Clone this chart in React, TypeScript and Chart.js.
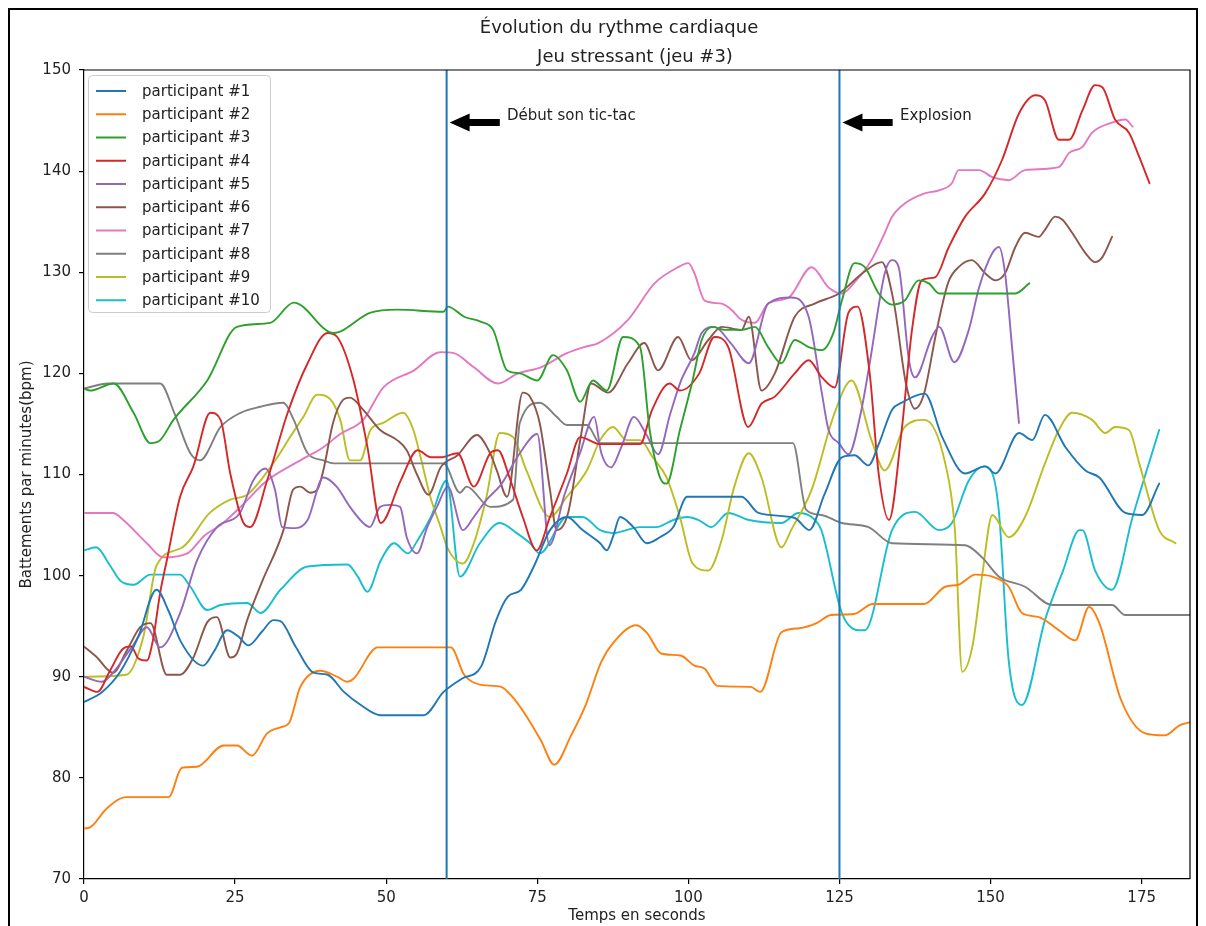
import React, { useEffect, useRef } from 'react';
import { Chart, registerables } from 'chart.js';

Chart.register(...registerables);

const FONT = '"DejaVu Sans", "Liberation Sans", sans-serif';

const TITLE_1 = 'Évolution du rythme cardiaque';
const TITLE_2 = 'Jeu stressant (jeu #3)';
const X_LABEL = 'Temps en seconds';
const Y_LABEL = 'Battements par minutes(bpm)';

const X_TICKS = [0, 25, 50, 75, 100, 125, 150, 175];
const Y_TICKS = [70, 80, 90, 100, 110, 120, 130, 140, 150];

const LABELS = [
  'participant #1', 'participant #2', 'participant #3', 'participant #4', 'participant #5',
  'participant #6', 'participant #7', 'participant #8', 'participant #9', 'participant #10',
];
const COLORS = ['#1f77b4', '#ff7f0e', '#2ca02c', '#d62728', '#9467bd', '#8c564b', '#e377c2', '#7f7f7f', '#bcbd22', '#17becf'];

// [time (s), bpm]
const p1: [number, number][] = [[0,87.5],[3,88.5],[6,90.5],[9,94],[12,98.6],[14,96.5],[16,93.5],[19.7,91.1],[21.5,92.5],[23.7,94.6],[25.5,94],[27.2,93.1],[29.5,94.5],[31.3,95.6],[32.5,95.5],[35,93],[38,90.4],[40.3,90.2],[43,88.5],[45.8,87.2],[49,86.2],[56.2,86.2],[59.5,88.5],[62.5,89.8],[65.7,91],[68.2,95.6],[70.1,97.9],[72.3,98.6],[74.5,101],[77.1,104.5],[79.9,105.8],[82.5,104.5],[85.4,103.2],[86.5,102.5],[87.5,103.8],[88.7,105.8],[90.9,104.8],[93.1,103.2],[95.3,103.8],[97.5,104.8],[99.8,107.8],[108.8,107.8],[111.6,106.2],[117.6,105.7],[120,104.5],[122.5,108],[125.4,111.7],[127.5,111.9],[129.8,110.9],[131.5,113],[133.7,116.4],[135.3,117.1],[139.1,118],[142,113.7],[145.8,110.1],[149.1,110.8],[150.8,110.1],[154.7,114.1],[156.9,113.4],[159,115.9],[162.4,112.7],[165.7,110.4],[168,109.7],[172.3,106.2],[175.1,106],[177.9,109.1]];
const p2: [number, number][] = [[0,75],[1,75.1],[3.8,77],[7,78.1],[14,78.1],[16.2,81],[18.7,81.1],[23.1,83.2],[25.3,83.2],[27.8,82.2],[30.3,84.4],[32.5,85],[33.9,85.4],[35.8,89],[39.1,90.6],[41.9,90],[43.6,89.5],[44.6,89.8],[48.6,92.9],[60.7,92.9],[62.9,90.2],[65.7,89.2],[69,89],[70.6,88.2],[73.1,86.2],[75.6,83.7],[77.8,81.3],[80.6,84.2],[83,87.2],[85.6,91.5],[87.5,93.3],[91.4,95.1],[93.2,94.3],[95.5,92.3],[98.7,92.1],[101,91.1],[102.7,90.8],[104.8,89.1],[110.3,89],[111.9,88.5],[115.4,94.4],[118.4,94.8],[121.2,95.3],[123.6,96.1],[127.4,96.2],[130.5,97.2],[139,97.2],[142.5,98.9],[144.7,99.1],[147.5,100.1],[150.3,99.9],[153,98.9],[155.2,96.3],[158,95.9],[161.3,94.6],[164,93.6],[166.3,96.9],[168,95.3],[171.6,87.7],[175.6,84.4],[178.8,84.2],[181.3,85.2],[183,85.5]];
const p3: [number, number][] = [[0,118.5],[1,118.3],[4.9,119],[8.2,116.1],[11,113.1],[12.6,113.4],[14.8,115.4],[20.4,119.3],[25.3,124.6],[30.8,125],[34.7,127],[41.3,124],[47.4,126],[51.8,126.3],[59.5,126.1],[60.2,126.6],[62.9,125.6],[65.7,125.1],[67.7,124.3],[70,120.3],[72.1,120],[75,119.3],[77.6,121.8],[79.9,120.3],[82.1,117.2],[84.2,119.3],[86.5,118.3],[89.2,123.6],[92,122.6],[93.6,114.4],[95.3,109.7],[96.4,109.1],[98.6,114.4],[100.7,119.3],[102.2,123.3],[104,124.6],[106,124.3],[108.8,124.3],[111,124.6],[113.2,122.6],[115.4,121],[117.6,123.3],[119.9,122.6],[122.1,122.3],[124,124],[125.4,127.2],[127.5,130.9],[129.2,130.5],[131.5,127.9],[133.7,126.8],[135.8,127.2],[138.1,129.2],[139.8,128.9],[141.5,127.9],[146.9,127.9],[154.1,127.9],[156.4,128.9]];
const p4: [number, number][] = [[0,89],[2.2,88.5],[4.3,90.6],[6.5,92.8],[7.8,93],[9,91.8],[10.4,91.6],[11.4,93.6],[12.6,98.3],[13.7,101.5],[15.9,107.8],[18.1,110.8],[20.9,116.1],[22.6,115.4],[24.2,110.1],[26.4,105.2],[27.5,104.8],[30.3,109.4],[33.7,116.1],[37,121],[40.3,124],[41.9,123.6],[44.6,119.3],[46.9,112.7],[49.1,105.2],[52.4,109.4],[55.2,112.4],[57.4,111.7],[59,111.7],[61.8,112.1],[64.5,108.8],[67.2,112.1],[68.5,112.4],[70.4,109.7],[72.6,105.8],[74.9,102.5],[77.1,105.8],[79.9,110.1],[82.1,113.7],[85.4,113],[92,113],[94,116.4],[96.9,119],[98.6,118.3],[101.8,120],[104.3,123.6],[106.6,122.6],[109.9,114.7],[112.1,117],[114.3,117.7],[117.6,120],[119.9,121.3],[122.1,119.6],[124.2,118.6],[126.5,126],[128,126.6],[130,120],[131.5,110],[133.2,105.5],[135.3,114.4],[137,124.3],[138.6,129.2],[140.8,129.5],[143.1,132.5],[145.8,135.5],[149.1,137.8],[151.9,141.1],[154.7,145.7],[157.4,147.5],[159,147],[161.3,143.1],[163,143.1],[165.2,146],[167.3,148.5],[168.5,148.3],[170.6,145.1],[172.9,143.8],[174.6,141.4],[176.3,138.8]];
const p5: [number, number][] = [[0,90],[3,89.5],[4.8,90.4],[8,93],[10.4,94.9],[12.6,92.9],[15.9,96.3],[18.7,101.5],[22,104.8],[25.8,106.2],[28,109.4],[30,110.6],[31.6,108.5],[32.8,104.8],[35,104.7],[37,105.5],[39.6,109.7],[41.8,108.8],[44,106.8],[46.2,105.2],[47.3,104.8],[49,106.8],[50.6,107],[52.3,106.8],[53.4,103.8],[55.1,102.2],[56.8,104.8],[58.4,106.8],[60.2,108.8],[62.7,104.5],[64.5,105.8],[66.6,107.5],[69,109],[72,112],[75,114],[77,103],[79.5,108],[82,112],[84.4,115.7],[85.6,112.1],[87.2,110.7],[88.9,112.7],[91,115.7],[93,114],[95,112],[97,116],[98.8,119.3],[101,122],[102.2,124],[104.3,124.6],[107,123],[110,121],[113.2,126.9],[117,127.5],[119.9,125.6],[122.1,118],[123.2,114.4],[124.9,113.1],[126.5,112],[128.5,116],[130,121],[132.5,129.9],[133.7,131.2],[134.8,130.5],[136.5,121.3],[137.5,119.6],[140.3,123.6],[141.5,124.6],[144,121.1],[146.4,124.3],[148.1,128.5],[150.3,131.9],[151.4,132.5],[152.4,129.9],[153.6,122.3],[154.7,115.1]];
const p6: [number, number][] = [[0,93],[2,92],[4.8,90.4],[7,92.5],[9.3,94.9],[11,95.3],[13.7,90.2],[15.9,90.2],[18.1,91.9],[20.4,95.4],[22,95.9],[24.2,91.9],[25.3,92.3],[27,95.6],[29.6,99.6],[33,104.5],[34.6,108.5],[35.8,108.8],[37.4,108.2],[38.6,108.5],[39.6,110.4],[41.2,115.1],[42.9,117.4],[44,117.6],[46.2,116.4],[49,114.4],[51.8,113.4],[53.4,112.4],[55.1,110],[57,108],[59,110.7],[61.8,111.9],[65,113.9],[67.2,112.1],[68.3,110.4],[70,107.8],[72.6,118.1],[73.8,117.7],[75.4,115.1],[77.1,108.5],[78.2,104.5],[80.1,106.2],[82.3,114.1],[83.9,119],[86.7,118.1],[90,121],[92.7,123],[95,120.3],[98.3,123.6],[100.5,121.3],[103.3,123.3],[105.5,124.6],[108.8,124.3],[110,125.6],[112.1,118.3],[114.3,120],[117.6,125.6],[120.9,126.9],[124.9,127.9],[129,130],[132,131],[134,127],[136,119],[137.5,116.5],[139,118],[141,124],[143,129],[144.7,130.5],[146.9,131.2],[149.1,129.9],[150.8,129.2],[152.4,129.9],[154.1,132.5],[155.7,133.9],[158,133.5],[159,134.2],[160.7,135.5],[161.9,135.2],[163.5,133.9],[165.7,131.9],[167.3,131],[168.5,131.5],[170.1,133.5]];
const p7: [number, number][] = [[0,106.2],[4.8,106.2],[6.5,105.5],[10.4,103.2],[13.1,101.8],[17.1,102.2],[20,104],[22.6,105],[25.9,106.8],[30.3,109.4],[35.8,111.4],[39.6,112.7],[42.4,114],[46.2,115.4],[49.5,118.6],[54.6,120.3],[59,122.1],[61.2,122],[64.5,120.6],[68.5,119],[71.8,120],[75.6,120.6],[79.9,122],[82.7,122.6],[85.1,123],[90,125.3],[94.4,128.9],[98.3,130.5],[100,130.9],[101,129.9],[102.7,127.2],[105.5,126.9],[107.1,126.3],[108.8,125.3],[111,125],[113.2,126.9],[116.6,127.5],[120.4,130.5],[123.2,128.5],[125.4,127.9],[127.5,129],[130.3,131.2],[132.5,133.9],[133.7,135.5],[135.8,136.8],[139.1,137.8],[141.5,138.1],[143.6,138.8],[144.7,140.1],[148.1,140.1],[150.3,139.4],[153,139.1],[155.7,140.1],[161.3,140.4],[163,141.8],[165.2,142.4],[166.8,143.8],[170.1,144.8],[172.3,145.1],[173.5,144.4]];
const p8: [number, number][] = [[0,118.5],[4,119],[12.6,119],[15,116],[17.6,112.1],[19.2,111.4],[22.6,114.7],[25.9,116.1],[29.2,116.7],[33,117.1],[34.7,115.4],[37,112.1],[39.6,111.4],[41.3,111.1],[59.5,111.1],[62.2,108.2],[63.3,108.8],[67.2,106.8],[71,107.5],[72.1,115.1],[75.4,117.1],[78.2,115.7],[79.9,114.9],[83.2,114.9],[85.4,113.1],[117.3,113.1],[119.5,106.5],[122,106],[125.4,105.2],[129.8,104.8],[133.7,103.2],[145.8,103],[148.6,101.8],[151.4,99.9],[155.7,98.9],[160.2,97.1],[170.1,97.1],[172.3,96.1],[182.9,96.1]];
const p9: [number, number][] = [[0,90],[7,90.2],[9.8,93.9],[12,101],[16.3,102.8],[20.8,106.2],[24.1,107.5],[27,108],[29.2,109.4],[32,111.7],[34.1,113.7],[36.3,115.7],[38.6,117.9],[40.8,117.4],[42.4,115.4],[44,111.4],[45.7,111.4],[47.4,114.4],[49.5,115.1],[52.8,116.1],[54.5,114.4],[55.7,111.7],[57.3,107.8],[59,104.8],[60.1,102.8],[62.7,101.2],[64.5,103.2],[66.6,107.8],[68.8,114.1],[71,113.7],[73.2,110.4],[77.1,105.8],[79.9,107.8],[83.2,110.4],[85.4,113.4],[87.5,114.7],[89.8,113.4],[92,113.4],[94.1,111.7],[96.4,109.7],[98.6,105.8],[100.7,101.2],[103.3,100.5],[105.5,103.5],[107.6,108.8],[110,112.1],[112.1,109.7],[115.4,102.8],[117,104.5],[120.4,108.5],[124.2,116.1],[127,119.3],[130.3,113.4],[132.5,110.4],[135.8,114.7],[139.1,115.4],[142.5,111.1],[144.1,104.5],[145.3,90.5],[147,93],[148.6,100],[150.3,106],[153,103.8],[155.7,105.8],[159,111.1],[161.3,114.4],[163.5,116.1],[166.8,115.4],[169,114.1],[170.6,114.7],[172.9,114.4],[174.6,111.1],[177.9,104.5],[180.6,103.2]];
const p10: [number, number][] = [[0,102.5],[2,102.8],[4.3,101],[6,99.5],[8.2,99.1],[11,100.1],[15.9,100.1],[17.6,98.9],[20.4,96.6],[22.6,97.1],[27,97.3],[29.2,96.3],[32.5,98.6],[37,100.9],[43.6,101.1],[45.3,99.9],[46.9,98.4],[49.1,101.5],[51.3,103.2],[53.6,102.2],[55.2,103.5],[57.4,105.8],[60,109.4],[62.2,99.9],[65.5,103.2],[68.8,105.2],[71.6,104.2],[73.8,103.2],[75.4,102.2],[79.9,105.8],[82.5,105.8],[85.4,104.5],[87.5,104.2],[92,104.8],[94.7,104.8],[97.5,105.5],[99.8,105.8],[101.7,105.5],[103.8,104.8],[106.6,106.2],[110,105.5],[115.4,105.2],[118.2,106.2],[120.4,105.8],[122,104.5],[125.4,96.3],[128.2,94.6],[129.2,94.6],[133.7,104.5],[137.5,106.3],[141.5,104.5],[143.6,105.2],[146.4,109.4],[148.9,110.8],[150.3,110.1],[151.4,106.2],[153,91.6],[155.2,87.2],[159,95.6],[162,100.5],[164.7,104.5],[165.2,104.5],[167.3,100.5],[170.1,98.6],[173.5,105.8],[177.9,114.4]];

const SERIES = [p1, p2, p3, p4, p5, p6, p7, p8, p9, p10];

const MARKERS = [
  { t: 60, label: 'Début son tic-tac' },
  { t: 125, label: 'Explosion' },
];
const ARROW_Y = 144.8;
const ARROW_LEN = 8.8;
const TEXT_DX = 10;
const TEXT_Y = 145.4;

const overlay = {
  id: 'overlay',
  afterDatasetsDraw(chart: any) {
    const { ctx, chartArea: a, scales } = chart;
    const xs = scales.x;
    const ys = scales.y;
    ctx.save();
    for (const m of MARKERS) {
      const px = xs.getPixelForValue(m.t);
      ctx.strokeStyle = '#1f77b4';
      ctx.lineWidth = 2;
      ctx.beginPath();
      ctx.moveTo(px, a.top);
      ctx.lineTo(px, a.bottom);
      ctx.stroke();

      const tip = px + 3;
      const y0 = ys.getPixelForValue(ARROW_Y);
      const tail = xs.getPixelForValue(m.t + ARROW_LEN);
      ctx.fillStyle = '#000';
      ctx.beginPath();
      ctx.moveTo(tip, y0);
      ctx.lineTo(tip + 20, y0 - 9);
      ctx.lineTo(tip + 20, y0 - 3.5);
      ctx.lineTo(tail, y0 - 3.5);
      ctx.lineTo(tail, y0 + 3.5);
      ctx.lineTo(tip + 20, y0 + 3.5);
      ctx.lineTo(tip + 20, y0 + 9);
      ctx.closePath();
      ctx.fill();

      ctx.font = `15px ${FONT}`;
      ctx.fillStyle = '#222';
      ctx.textAlign = 'left';
      ctx.textBaseline = 'middle';
      ctx.fillText(m.label, xs.getPixelForValue(m.t + TEXT_DX), ys.getPixelForValue(TEXT_Y));
    }

    const lx = a.left + 4;
    const ly = a.top + 5;
    const lw = 182;
    const lh = 237;
    ctx.fillStyle = 'rgba(255,255,255,0.8)';
    ctx.strokeStyle = '#cccccc';
    ctx.lineWidth = 1;
    ctx.beginPath();
    (ctx as any).roundRect(lx + 0.5, ly + 0.5, lw, lh, 4);
    ctx.fill();
    ctx.stroke();
    ctx.font = `15px ${FONT}`;
    ctx.textAlign = 'left';
    ctx.textBaseline = 'middle';
    chart.data.datasets.forEach((ds: any, i: number) => {
      const yy = ly + 16 + i * 23.25;
      ctx.strokeStyle = ds.borderColor;
      ctx.lineWidth = 2;
      ctx.beginPath();
      ctx.moveTo(lx + 8, yy);
      ctx.lineTo(lx + 38, yy);
      ctx.stroke();
      ctx.fillStyle = '#222';
      ctx.fillText(ds.label, lx + 54, yy + 1);
    });

    ctx.strokeStyle = '#000';
    ctx.lineWidth = 1.2;
    ctx.beginPath();
    ctx.moveTo(a.left, a.top);
    ctx.lineTo(a.right, a.top);
    ctx.lineTo(a.right, a.bottom);
    ctx.stroke();
    ctx.restore();
  },
  afterDraw(chart: any) {
    const { ctx, chartArea: a } = chart;
    const cx = (a.left + a.right) / 2;
    const cy = (a.top + a.bottom) / 2;
    ctx.save();
    ctx.fillStyle = '#222';
    ctx.textAlign = 'center';
    ctx.textBaseline = 'middle';
    ctx.font = `18px ${FONT}`;
    ctx.fillText(TITLE_1, cx - 18, 18);
    ctx.fillText(TITLE_2, cx - 2, 47);
    ctx.font = `15px ${FONT}`;
    ctx.fillText(X_LABEL, cx, 906);
    ctx.translate(17, cy);
    ctx.rotate(-Math.PI / 2);
    ctx.fillText(Y_LABEL, 0, 0);
    ctx.restore();
  },
};

export default function App() {
  const ref = useRef<HTMLCanvasElement>(null);
  useEffect(() => {
    const canvas = ref.current;
    if (!canvas) return;
    const chart = new Chart(canvas, {
      type: 'line',
      data: {
        datasets: SERIES.map((s, i) => ({
          label: LABELS[i],
          data: s.map(([x, y]) => ({ x, y })),
          borderColor: COLORS[i],
          backgroundColor: COLORS[i],
          borderWidth: 1.9,
          pointRadius: 0,
          fill: false,
          cubicInterpolationMode: 'monotone' as const,
        })),
      },
      options: {
        responsive: false,
        animation: false,
        devicePixelRatio: 1,
        layout: { padding: { top: 60, right: 6, left: 0, bottom: 0 } },
        plugins: {
          legend: { display: false },
          title: { display: false },
          tooltip: { enabled: false },
        },
        elements: {
          line: { borderJoinStyle: 'round', borderCapStyle: 'round' },
        },
        scales: {
          x: {
            type: 'linear',
            min: 0,
            max: 183,
            afterBuildTicks: (s: any) => { s.ticks = X_TICKS.map((v) => ({ value: v })); },
            afterFit: (s: any) => { s.height = 47; },
            ticks: { font: { family: FONT, size: 15 }, color: '#222', padding: 5, maxRotation: 0, autoSkip: false },
            grid: { drawOnChartArea: false, drawTicks: true, tickLength: 5, color: '#000', lineWidth: 1.2 },
            border: { display: true, color: '#000', width: 1.2 },
          },
          y: {
            type: 'linear',
            min: 70,
            max: 150,
            afterBuildTicks: (s: any) => { s.ticks = Y_TICKS.map((v) => ({ value: v })); },
            afterFit: (s: any) => { s.width = 74; },
            ticks: { font: { family: FONT, size: 15 }, color: '#222', padding: 8, autoSkip: false },
            grid: { drawOnChartArea: false, drawTicks: true, tickLength: 5, color: '#000', lineWidth: 1.2 },
            border: { display: true, color: '#000', width: 1.2 },
          },
        },
      },
      plugins: [overlay],
    } as any);
    return () => chart.destroy();
  }, []);

  return (
    <div style={{ width: 1186, height: 918, border: '2px solid #000', borderBottom: 'none', background: '#fff' }}>
      <canvas ref={ref} width={1186} height={916} style={{ display: 'block' }} />
    </div>
  );
}
